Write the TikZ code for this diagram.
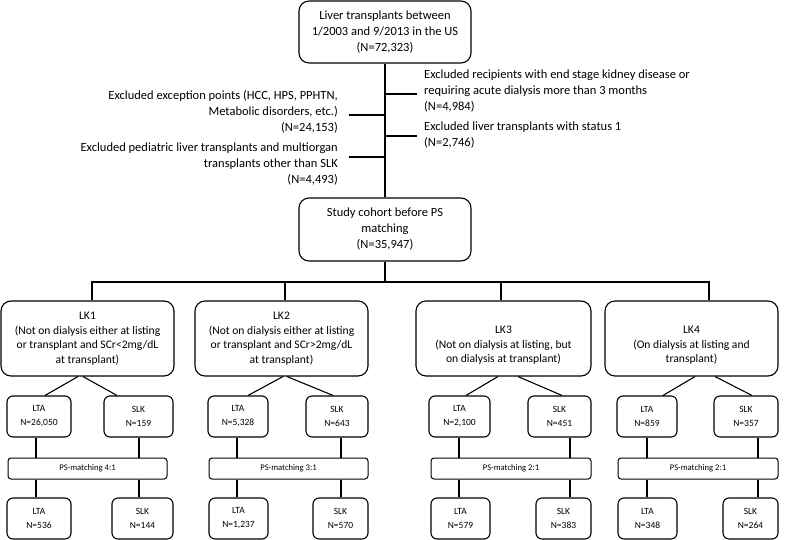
\documentclass[tikz,border=0pt]{standalone}
\usepackage{fontspec}
\setmainfont{Carlito}
\usetikzlibrary{calc}
\begin{document}
\begin{tikzpicture}[x=1pt,y=-1pt,
  every node/.style={inner sep=0pt, text=black},
  bigbox/.style={draw, line width=1.1pt, rounded corners=10pt, align=center},
  txt/.style={font=\fontsize{12.5}{16}\selectfont},
  lktxt/.style={font=\fontsize{11.6}{14.5}\selectfont, align=center},
  subbox/.style={draw, line width=1.1pt, rounded corners=6pt, align=center, font=\fontsize{9.5}{14}\selectfont, minimum height=41pt},
  psbox/.style={draw, line width=1pt, rounded corners=3pt, font=\fontsize{8.6}{9}\selectfont, minimum height=21pt},
  conn/.style={line width=1.1pt}
]
\useasboundingbox (0,0) rectangle (786,540);

% top part
\node[bigbox, txt, minimum width=172pt, minimum height=62pt] (top) at (385,32) {Liver transplants between\\1/2003 and 9/2013 in the US\\(N=72,323)};
\node[bigbox, txt, minimum width=172pt, minimum height=63pt] (study) at (385,229.5) {Study cohort before PS\\matching\\(N=35,947)};
\draw[conn] (top) -- (study);

\node[txt, align=left, anchor=west] (ex1) at (424,91) {Excluded recipients with end stage kidney disease or\\requiring acute dialysis more than 3 months\\(N=4,984)};
\node[txt, align=left, anchor=west] (ex2) at (424,135) {Excluded liver transplants with status 1\\(N=2,746)};
\node[txt, align=right, anchor=east] (ex3) at (338,112) {Excluded exception points (HCC, HPS, PPHTN,\\Metabolic disorders, etc.)\\(N=24,153)};
\node[txt, align=right, anchor=east] (ex4) at (338,164) {Excluded pediatric liver transplants and multiorgan\\transplants other than SLK\\(N=4,493)};
\coordinate (r1) at (top.south |- 0,94);
\coordinate (r2) at (top.south |- 0,136);
\coordinate (l1) at (top.south |- 0,115);
\coordinate (l2) at (top.south |- 0,157);
\draw[conn] (r1) -- ++(32,0);
\draw[conn] (r2) -- ++(32,0);
\draw[conn] (l1) -- ++(-36,0);
\draw[conn] (l2) -- ++(-36,0);

% LK boxes
\node[bigbox, minimum width=173pt, minimum height=75pt] (lk1) at (87.5,338.5) {};
\node[bigbox, minimum width=173pt, minimum height=75pt] (lk2) at (281.5,338.5) {};
\node[bigbox, minimum width=175pt, minimum height=75pt] (lk3) at (503.5,338.5) {};
\node[bigbox, minimum width=173pt, minimum height=75pt] (lk4) at (691.5,338.5) {};
\node[lktxt] (lk1t) at (lk1.center) {LK1\\(Not on dialysis either at listing\\or transplant and SCr<2mg/dL\\at transplant)};
\node[lktxt] (lk2t) at (lk2.center) {LK2\\(Not on dialysis either at listing\\or transplant and SCr>2mg/dL\\at transplant)};
\node[lktxt] (lk3t) at ($(lk3.center)+(0,7)$) {LK3\\(Not on dialysis at listing, but\\on dialysis at transplant)};
\node[lktxt] (lk4t) at ($(lk4.center)+(0,7)$) {LK4\\(On dialysis at listing and\\transplant)};

\coordinate (h) at (study.south |- 0,282);
\draw[conn] (study.south) -- (h);
\draw[conn] ([xshift=4.5pt]lk1.north) |- (h) -| ([xshift=17.5pt]lk4.north);
\draw[conn] ([xshift=3.5pt]lk2.north) |- (h);
\draw[conn] ([xshift=-2.5pt]lk3.north) |- (h);

% group 1
\node[subbox, minimum width=64pt] (lta1) at (39,416.5) {LTA\\N=26,050};
\node[subbox, minimum width=69pt] (slk1) at (138.5,416.5) {SLK\\N=159};
\node[psbox, minimum width=159pt] (ps1) at (87.5,468.5) {PS-matching 4:1};
\node[subbox, minimum width=64pt] (lta1b) at (39,518.5) {LTA\\N=536};
\node[subbox, minimum width=61pt] (slk1b) at (142.5,518.5) {SLK\\N=144};
% group 2
\node[subbox, minimum width=60pt] (lta2) at (238,416.5) {LTA\\N=5,328};
\node[subbox, minimum width=62pt] (slk2) at (337,416.5) {SLK\\N=643};
\node[psbox, minimum width=159pt] (ps2) at (288.5,468.5) {PS-matching 3:1};
\node[subbox, minimum width=59pt] (lta2b) at (238.5,518.5) {LTA\\N=1,237};
\node[subbox, minimum width=55pt] (slk2b) at (340.5,518.5) {SLK\\N=570};
% group 3
\node[subbox, minimum width=61pt] (lta3) at (459.5,416.5) {LTA\\N=2,100};
\node[subbox, minimum width=63pt] (slk3) at (559.5,416.5) {SLK\\N=451};
\node[psbox, minimum width=160pt] (ps3) at (511,468.5) {PS-matching 2:1};
\node[subbox, minimum width=59pt] (lta3b) at (460.5,518.5) {LTA\\N=579};
\node[subbox, minimum width=55pt] (slk3b) at (563.5,518.5) {SLK\\N=383};
% group 4
\node[subbox, minimum width=60pt] (lta4) at (647,416.5) {LTA\\N=859};
\node[subbox, minimum width=64pt] (slk4) at (746,416.5) {SLK\\N=357};
\node[psbox, minimum width=160pt] (ps4) at (698,468.5) {PS-matching 2:1};
\node[subbox, minimum width=59pt] (lta4b) at (647.5,518.5) {LTA\\N=348};
\node[subbox, minimum width=55pt] (slk4b) at (750.5,518.5) {SLK\\N=264};

% vertical connectors through PS boxes
\foreach \g/\xa/\xb in {1/36/139, 2/237/341, 3/459/570, 4/647/758}{
  \coordinate (va) at (\xa,0);
  \coordinate (vb) at (\xb,0);
  \draw[conn] (lta\g.south -| va) -- (ps\g.north -| va);
  \draw[conn] (ps\g.south -| va) -- (lta\g b.north -| va);
  \draw[conn] (slk\g.south -| vb) -- (ps\g.north -| vb);
  \draw[conn] (ps\g.south -| vb) -- (slk\g b.north -| vb);
}
% diagonal connectors from LK boxes
\foreach \g/\sa/\ta/\sb/\tb in {1/78/45/83/117, 2/283/248/287/333, 3/498/466/518/562, 4/695/663/715/752}{
  \coordinate (sa) at (\sa,0);
  \coordinate (ta) at (\ta,0);
  \coordinate (sb) at (\sb,0);
  \coordinate (tb) at (\tb,0);
  \draw[conn] (lk\g.south -| sa) -- (lta\g.north -| ta);
  \draw[conn] (lk\g.south -| sb) -- (slk\g.north -| tb);
}
\end{tikzpicture}
\end{document}
